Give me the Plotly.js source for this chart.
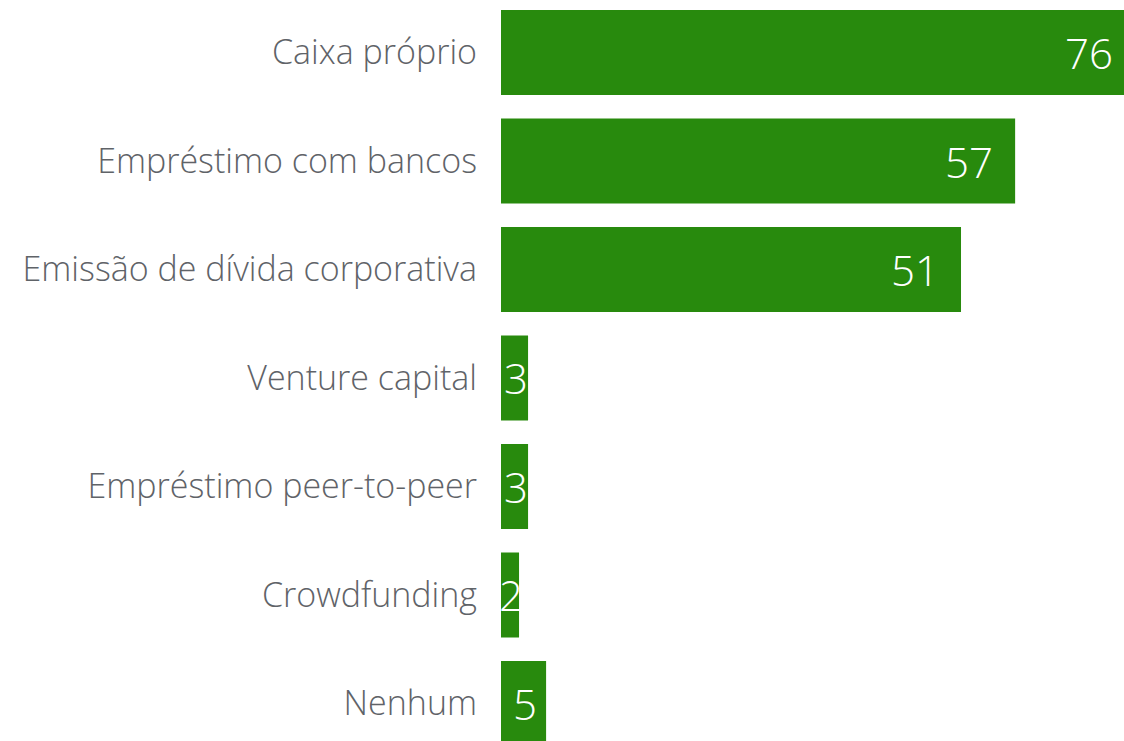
<!DOCTYPE html>
<html>
<head>
<meta charset="utf-8">
<script src="https://cdn.plot.ly/plotly-3.0.1.min.js"></script>
<style>
  html, body { margin: 0; padding: 0; background: #fff; }
  #chart { width: 1124px; height: 741px; }
</style>
</head>
<body>
<div id="chart"></div>
<script>
const categories = [
  "Caixa próprio",
  "Empréstimo com bancos",
  "Emissão de dívida corporativa",
  "Venture capital",
  "Empréstimo peer-to-peer",
  "Crowdfunding",
  "Nenhum"
];
const values = [76, 57, 51, 3, 3, 2, 5];

const XMAX = 69.07;
const GREEN = "#288a0d";
const FONT = "Open Sans";

const trace = {
  type: "bar",
  orientation: "h",
  y: categories,
  x: values,
  marker: { color: GREEN, line: { width: 0 } },
  width: 0.783,
  hoverinfo: "skip"
};

const annotations = values.map((v, i) => {
  const small = v < 10;
  return {
    xref: "x", yref: "y",
    x: small ? v / 2 : Math.min(v, XMAX),
    y: categories[i],
    text: String(v),
    showarrow: false,
    xanchor: small ? "center" : "right",
    yanchor: "middle",
    xshift: small ? 1 : (v > XMAX ? -9 : -20),
    yshift: 0,
    font: { family: FONT, size: 42, color: "#ffffff", weight: 300 }
  };
});

const layout = {
  width: 1124,
  height: 741,
  margin: { l: 501, r: 0, t: 0, b: 0, pad: 0 },
  paper_bgcolor: "#ffffff",
  plot_bgcolor: "#ffffff",
  showlegend: false,
  xaxis: {
    range: [0, XMAX],
    visible: false,
    showgrid: false,
    zeroline: false,
    fixedrange: true
  },
  yaxis: {
    type: "category",
    categoryorder: "array",
    categoryarray: categories,
    range: [6.346, -0.484],
    showgrid: false,
    zeroline: false,
    showline: false,
    ticks: "",
    ticklabelstandoff: 23,
    tickfont: { family: FONT, size: 34, color: "#5f6368", weight: 300 },
    fixedrange: true
  },
  annotations: annotations
};

Plotly.newPlot("chart", [trace], layout, { displayModeBar: false, staticPlot: true });
</script>
</body>
</html>
